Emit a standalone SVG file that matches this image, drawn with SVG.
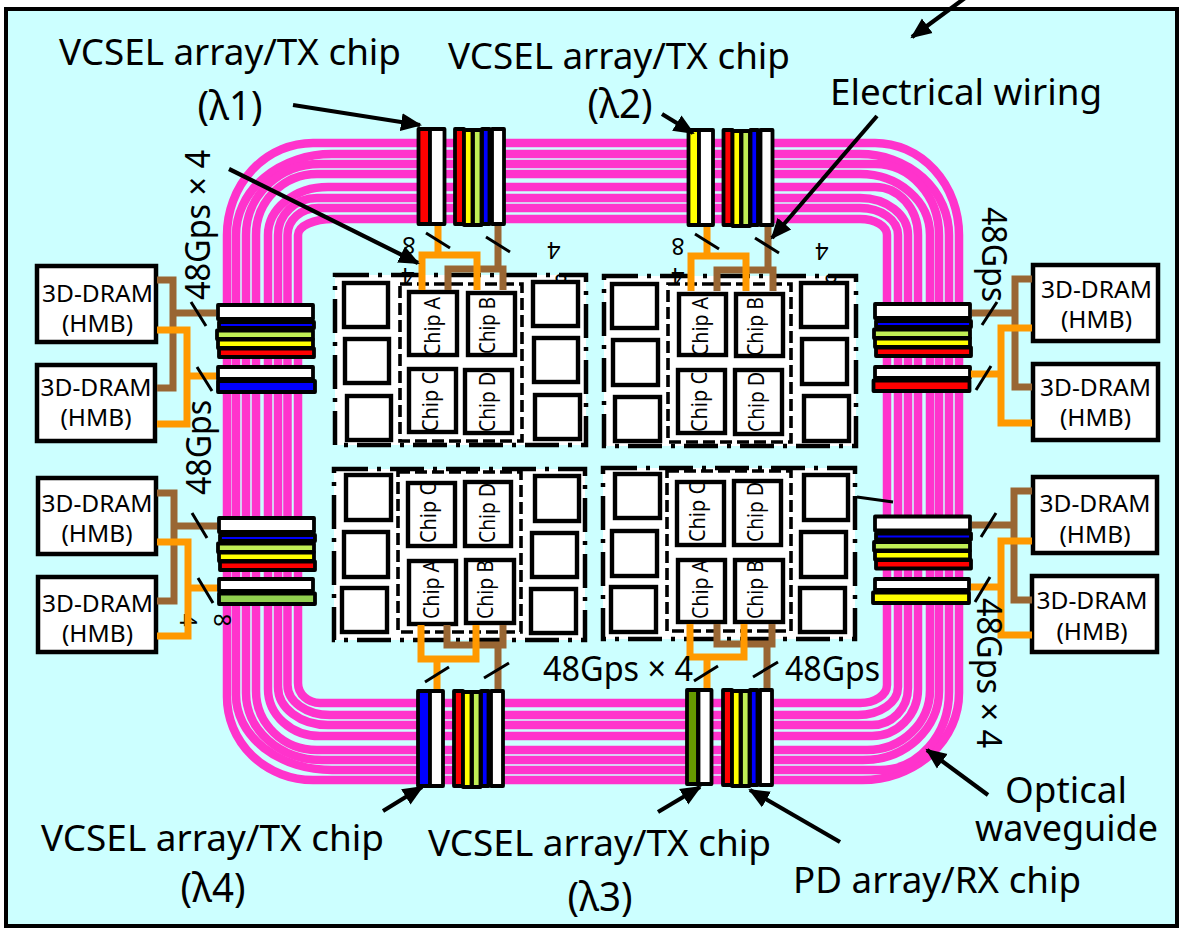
<svg xmlns="http://www.w3.org/2000/svg" xmlns:xlink="http://www.w3.org/1999/xlink" width="1182" height="930" viewBox="0 0 1182 930">
<style>
text{font-family:"Noto Sans","Open Sans",sans-serif;fill:#000}
.lb{font-size:36px}
.la{font-size:40px;text-anchor:middle}
.rt{font-size:34px}
.dr{font-size:24px;text-anchor:middle}
.cp{font-size:21px}
.dg{font-size:23px;text-anchor:middle}
.wg{fill:none;stroke:#ff33cc;stroke-width:8.500}
.s{stroke:#000;stroke-width:3.800;stroke-linejoin:round}
.w{fill:#fff}.r{fill:#f00}.y{fill:#ff0}.g{fill:#c0ee55}.b{fill:#00f}
.box{fill:#fff;stroke:#000;stroke-width:4.500}
.pk{fill:#fff;stroke:#000;stroke-width:4.500;stroke-dasharray:34 9 4 9}
.in{fill:none;stroke:#000;stroke-width:3.600;stroke-dasharray:12 5}
.sq{fill:#fff;stroke:#000;stroke-width:4.400}
.cb{fill:#fff}
.cf{fill:none;stroke:#000;stroke-width:4.400}
.br{fill:none;stroke:#996633;stroke-width:7}
.or{fill:none;stroke:#ff9900;stroke-width:7}
.tk{stroke:#000;stroke-width:3;fill:none}
.ar{stroke:#000;stroke-width:4.200;fill:none;marker-end:url(#ah)}
</style>
<defs>
<marker id="ah" markerUnits="userSpaceOnUse" markerWidth="22" markerHeight="20" viewBox="0 0 22 20" refX="19" refY="10" orient="auto"><path d="M0 1L21 10L0 19z" fill="#000"/></marker>
<g id="rxv"><rect class="s r" x="0" y="0" width="9" height="95"/><rect class="s y" x="9" y="1" width="8.500" height="95"/><rect class="s g" x="18" y="1" width="8.500" height="95"/><rect class="s b" x="27" y="0" width="7.500" height="95"/><rect class="s w" x="37" y="0" width="12" height="95"/></g>
<g id="rxh"><rect class="s w" x="0" y="-0.500" width="95" height="14"/><rect class="s b" x="1" y="16.500" width="95" height="6"/><rect class="s g" x="-1" y="25" width="96" height="8.500"/><rect class="s y" x="0" y="34" width="95" height="8.500"/><rect class="s r" x="1" y="43" width="95" height="8.500"/></g>
</defs>
<rect width="1182" height="930" fill="#fff"/>
<rect id="substrate" x="6" y="9" width="1171" height="917" fill="#ccffff" stroke="#000" stroke-width="4"/>
<g id="waveguides">
<path class="wg" d="M227 235A86 92 0 0 1 313 143H875A84 92 0 0 1 959 235V693A97 87 0 0 1 862 780H313A86 83 0 0 1 227 697Z"/>
<path class="wg" d="M236 235A96 81 0 0 1 332 154H860A89 81 0 0 1 949 235V692A69 78 0 0 1 880 770H332A96 75 0 0 1 236 695Z"/>
<path class="wg" d="M246 235A74 71 0 0 1 320 164H875A64 71 0 0 1 939 235V691A76 69 0 0 1 863 760H322A76 67 0 0 1 246 693Z"/>
<path class="wg" d="M256 235A61 61 0 0 1 317 174H860A70 61 0 0 1 930 235V690A63 60 0 0 1 867 750H317A61 59 0 0 1 256 691Z"/>
<path class="wg" d="M268 235A60 48 0 0 1 328 187H875A43 48 0 0 1 918 235V689A46 47 0 0 1 872 736H320A52 47 0 0 1 268 689Z"/>
<path class="wg" d="M278 235A39 37 0 0 1 317 198H860A48 37 0 0 1 908 235V688A36 37 0 0 1 872 725H328A50 38 0 0 1 278 687Z"/>
<path class="wg" d="M287.500 235A30.500 27 0 0 1 318 208H860A38 27 0 0 1 898 235V687A40 28 0 0 1 858 715H330A42.500 30 0 0 1 287.500 685Z"/>
<path class="wg" d="M298 235A35 16 0 0 1 333 219H860A27 16 0 0 1 887 235V685A27 18 0 0 1 860 703H320A22 20 0 0 1 298 683Z"/>
</g>
<g id="dram-boxes">
<g id="dram-1"><rect class="box" x="37" y="266" width="119" height="76"/><text class="dr" x="97.500" y="302" textLength="111" lengthAdjust="spacingAndGlyphs">3D-DRAM</text><text class="dr" x="97.500" y="332" textLength="71" lengthAdjust="spacingAndGlyphs">(HMB)</text></g>
<g id="dram-2"><rect class="box" x="37" y="365" width="118" height="76"/><text class="dr" x="96" y="396" textLength="111" lengthAdjust="spacingAndGlyphs">3D-DRAM</text><text class="dr" x="96" y="426" textLength="71" lengthAdjust="spacingAndGlyphs">(HMB)</text></g>
<g id="dram-3"><rect class="box" x="38" y="478" width="118" height="76"/><text class="dr" x="97" y="512" textLength="111" lengthAdjust="spacingAndGlyphs">3D-DRAM</text><text class="dr" x="97" y="542" textLength="71" lengthAdjust="spacingAndGlyphs">(HMB)</text></g>
<g id="dram-4"><rect class="box" x="38" y="577" width="118" height="75"/><text class="dr" x="97.500" y="612" textLength="111" lengthAdjust="spacingAndGlyphs">3D-DRAM</text><text class="dr" x="97.500" y="642" textLength="71" lengthAdjust="spacingAndGlyphs">(HMB)</text></g>
<g id="dram-5"><rect class="box" x="1033" y="265" width="125" height="76"/><text class="dr" x="1096.500" y="298" textLength="111" lengthAdjust="spacingAndGlyphs">3D-DRAM</text><text class="dr" x="1096.500" y="328" textLength="71" lengthAdjust="spacingAndGlyphs">(HMB)</text></g>
<g id="dram-6"><rect class="box" x="1033" y="364" width="125" height="76"/><text class="dr" x="1095.500" y="396" textLength="111" lengthAdjust="spacingAndGlyphs">3D-DRAM</text><text class="dr" x="1095.500" y="426" textLength="71" lengthAdjust="spacingAndGlyphs">(HMB)</text></g>
<g id="dram-7"><rect class="box" x="1033" y="477" width="124" height="76"/><text class="dr" x="1095" y="512" textLength="111" lengthAdjust="spacingAndGlyphs">3D-DRAM</text><text class="dr" x="1095" y="543" textLength="71" lengthAdjust="spacingAndGlyphs">(HMB)</text></g>
<g id="dram-8"><rect class="box" x="1032" y="576" width="125" height="76"/><text class="dr" x="1092" y="609" textLength="111" lengthAdjust="spacingAndGlyphs">3D-DRAM</text><text class="dr" x="1092" y="640" textLength="71" lengthAdjust="spacingAndGlyphs">(HMB)</text></g>
</g>
<g id="chip-stacks">
<g id="stack-top-1"><rect class="s r" x="418.500" y="129" width="11.500" height="95"/><rect class="s w" x="430" y="129" width="14.500" height="95"/><use xlink:href="#rxv" href="#rxv" x="455" y="129"/></g>
<g id="stack-top-2"><rect class="s y" x="688.500" y="130" width="10.500" height="95"/><rect class="s w" x="699" y="130" width="14" height="95"/><use xlink:href="#rxv" href="#rxv" x="723.500" y="130"/></g>
<g id="stack-bottom-1"><rect class="s b" x="418" y="691" width="12" height="95"/><rect class="s w" x="430" y="691" width="13" height="95"/><use xlink:href="#rxv" href="#rxv" x="454" y="691"/></g>
<g id="stack-bottom-2"><rect class="s" fill="#669900" x="687" y="690" width="11" height="94"/><rect class="s w" x="698.500" y="690" width="13" height="94"/><use xlink:href="#rxv" href="#rxv" x="723" y="690"/></g>
<g id="stack-left-1"><use xlink:href="#rxh" href="#rxh" x="218" y="305.500"/><rect class="s w" x="218" y="367" width="95" height="12"/><rect class="s b" x="218" y="381" width="97" height="11"/></g>
<g id="stack-left-2"><use xlink:href="#rxh" href="#rxh" x="219" y="518.500"/><rect class="s w" x="219" y="579" width="94" height="12"/><rect class="s" fill="#92d050" x="219" y="593.500" width="96" height="10.500"/></g>
<g id="stack-right-1"><use xlink:href="#rxh" href="#rxh" x="875" y="304.500"/><rect class="s w" x="875" y="367" width="95" height="11"/><rect class="s r" x="873.500" y="380.500" width="96" height="10.500"/></g>
<g id="stack-right-2"><use xlink:href="#rxh" href="#rxh" x="875" y="517"/><rect class="s w" x="875" y="579" width="94" height="11"/><rect class="s y" x="873" y="592.500" width="96" height="10.500"/></g>
</g>
<g id="count-labels">
<text class="dg" transform="translate(409 237) rotate(180)">8</text>
<text class="dg" transform="translate(554 242) rotate(180)">4</text>
<text class="dg" transform="translate(678 238) rotate(180)">8</text>
<text class="dg" transform="translate(822 243) rotate(180)">4</text>
<text class="dg" transform="translate(214 620) rotate(90)">8</text>
</g>
<g id="pkg-1">
<rect class="pk" x="335" y="275" width="251" height="170"/>
<text class="dg" transform="translate(408 268) rotate(180)">4</text><text class="dg" transform="translate(561 274) rotate(180)">8</text>
<rect class="in" x="400" y="284" width="122" height="157"/>
<rect class="sq" x="344" y="283" width="44" height="44"/><rect class="sq" x="345" y="339" width="44" height="44"/><rect class="sq" x="347" y="396" width="44" height="44"/>
<rect class="sq" x="533" y="282" width="45" height="44"/><rect class="sq" x="534" y="338" width="44" height="44"/><rect class="sq" x="535" y="395" width="45" height="44"/>
<rect class="cb" x="409" y="292" width="48" height="63"/><text class="cp" transform="translate(440 356) rotate(-90)" textLength="59" lengthAdjust="spacingAndGlyphs">Chip A</text><rect class="cf" x="409" y="292" width="48" height="63"/>
<rect class="cb" x="468" y="293" width="47" height="62"/><text class="cp" transform="translate(495 354) rotate(-90)" textLength="57" lengthAdjust="spacingAndGlyphs">Chip B</text><rect class="cf" x="468" y="293" width="47" height="62"/>
<rect class="cb" x="409" y="369" width="47" height="63"/><text class="cp" transform="translate(438 432) rotate(-90)" textLength="60" lengthAdjust="spacingAndGlyphs">Chip C</text><rect class="cf" x="409" y="369" width="47" height="63"/>
<rect class="cb" x="465" y="370" width="47" height="63"/><text class="cp" transform="translate(495 432) rotate(-90)" textLength="60" lengthAdjust="spacingAndGlyphs">Chip D</text><rect class="cf" x="465" y="370" width="47" height="63"/>
</g>
<g id="pkg-2">
<rect class="pk" x="604" y="276" width="252" height="170"/>
<text class="dg" transform="translate(678 268) rotate(180)">4</text><text class="dg" transform="translate(831 274) rotate(180)">8</text>
<rect class="in" x="668" y="284" width="123" height="158"/>
<rect class="sq" x="612" y="284" width="45" height="44"/><rect class="sq" x="613" y="340" width="45" height="45"/><rect class="sq" x="615" y="397" width="45" height="44"/>
<rect class="sq" x="801" y="283" width="46" height="44"/><rect class="sq" x="802" y="339" width="45" height="45"/><rect class="sq" x="804" y="396" width="45" height="45"/>
<rect class="cb" x="679" y="294" width="47" height="61"/><text class="cp" transform="translate(708 356) rotate(-90)" textLength="59" lengthAdjust="spacingAndGlyphs">Chip A</text><rect class="cf" x="679" y="294" width="47" height="61"/>
<rect class="cb" x="736" y="294" width="47" height="62"/><text class="cp" transform="translate(763 356) rotate(-90)" textLength="59" lengthAdjust="spacingAndGlyphs">Chip B</text><rect class="cf" x="736" y="294" width="47" height="62"/>
<rect class="cb" x="678" y="370" width="47" height="63"/><text class="cp" transform="translate(707 432) rotate(-90)" textLength="60" lengthAdjust="spacingAndGlyphs">Chip C</text><rect class="cf" x="678" y="370" width="47" height="63"/>
<rect class="cb" x="735" y="370" width="47" height="64"/><text class="cp" transform="translate(764 432) rotate(-90)" textLength="60" lengthAdjust="spacingAndGlyphs">Chip D</text><rect class="cf" x="735" y="370" width="47" height="64"/>
</g>
<g id="pkg-3">
<rect class="pk" x="334" y="469" width="251" height="171"/>
<rect class="in" x="398" y="472" width="123" height="160"/>
<rect class="sq" x="346" y="475" width="45" height="45"/><rect class="sq" x="344" y="532" width="44" height="45"/><rect class="sq" x="342" y="588" width="45" height="44"/>
<rect class="sq" x="535" y="476" width="44" height="45"/><rect class="sq" x="532" y="533" width="45" height="44"/><rect class="sq" x="531" y="589" width="45" height="44"/>
<rect class="cb" x="408" y="483" width="47" height="63"/><text class="cp" transform="translate(436 543) rotate(-90)" textLength="60" lengthAdjust="spacingAndGlyphs">Chip C</text><rect class="cf" x="408" y="483" width="47" height="63"/>
<rect class="cb" x="465" y="482" width="46" height="64"/><text class="cp" transform="translate(495 543) rotate(-90)" textLength="60" lengthAdjust="spacingAndGlyphs">Chip D</text><rect class="cf" x="465" y="482" width="46" height="64"/>
<rect class="cb" x="409" y="561" width="47" height="63"/><text class="cp" transform="translate(439 619) rotate(-90)" textLength="59" lengthAdjust="spacingAndGlyphs">Chip A</text><rect class="cf" x="409" y="561" width="47" height="63"/>
<rect class="cb" x="466" y="560" width="48" height="63"/><text class="cp" transform="translate(493 619) rotate(-90)" textLength="59" lengthAdjust="spacingAndGlyphs">Chip B</text><rect class="cf" x="466" y="560" width="48" height="63"/>
</g>
<g id="pkg-4">
<rect class="pk" x="603" y="468" width="252" height="171"/>
<rect class="in" x="667" y="471" width="124" height="160"/>
<rect class="sq" x="615" y="474" width="45" height="44"/><rect class="sq" x="612" y="531" width="45" height="45"/><rect class="sq" x="611" y="587" width="45" height="45"/>
<rect class="sq" x="804" y="475" width="44" height="45"/><rect class="sq" x="801" y="532" width="45" height="45"/><rect class="sq" x="800" y="588" width="45" height="44"/>
<rect class="cb" x="677" y="482" width="47" height="63"/><text class="cp" transform="translate(705 542) rotate(-90)" textLength="60" lengthAdjust="spacingAndGlyphs">Chip C</text><rect class="cf" x="677" y="482" width="47" height="63"/>
<rect class="cb" x="734" y="481" width="47" height="64"/><text class="cp" transform="translate(763 542) rotate(-90)" textLength="60" lengthAdjust="spacingAndGlyphs">Chip D</text><rect class="cf" x="734" y="481" width="47" height="64"/>
<rect class="cb" x="678" y="560" width="47" height="62"/><text class="cp" transform="translate(708 619) rotate(-90)" textLength="59" lengthAdjust="spacingAndGlyphs">Chip A</text><rect class="cf" x="678" y="560" width="47" height="62"/>
<rect class="cb" x="735" y="560" width="48" height="62"/><text class="cp" transform="translate(763 619) rotate(-90)" textLength="59" lengthAdjust="spacingAndGlyphs">Chip B</text><rect class="cf" x="735" y="560" width="48" height="62"/>
</g>
<g id="connectors">
<path class="br" d="M157 280H173V388H157M173 313H216"/>
<text class="dg" transform="translate(180 620) rotate(90)">4</text>
<path class="or" d="M157 330H187V424H157M187 376H216"/>
<path class="br" d="M157 493H174V601H157M174 526H217"/>
<path class="or" d="M157 542H188V636H157M188 588H217"/>
<path class="br" d="M972 313H1015M1032 279H1015V387H1032"/>
<path class="or" d="M971 374H1001M1032 328H1001V423H1032"/>
<path class="br" d="M972 525H1014M1032 491H1014V600H1032"/>
<path class="or" d="M971 587H1001M1032 541H1001V635H1032"/>
<path class="br" d="M498 226V269M448 290V269H503V290"/>
<path class="or" d="M438 226V255M422 290V255H477V290"/>
<path class="br" d="M768 227V270M717 291V270H773V291"/>
<path class="or" d="M707 227V256M691 291V256H746V291"/>
<path class="br" d="M498 689V645M447 625V645H503V625"/>
<path class="or" d="M437 689V659M421 625V659H476V625"/>
<path class="br" d="M767 688V644M717 624V644H772V624"/>
<path class="or" d="M707 688V657M690 624V657H744V624"/>
<path class="tk" d="M191 302L206 326M197 367L212 391M192 513L207 538M198 578L213 603M997 302L982 325M991 366L976 390M996 513L981 537M990 577L975 602M426 233L450 248M486 237L510 252M695 234L719 249M755 238L779 253M425 682L449 667M484 678L509 663M694 681L718 666M753 677L778 662"/>
<path class="tk" d="M857 497L893 502"/>
<path class="ar" d="M293 105L420 125"/>
<path class="ar" d="M229 169L418 263"/>
<path class="ar" d="M662 114L693 133"/>
<path class="ar" d="M877 116L772 238"/>
<path class="ar" d="M965 -2L912 37"/>
<path class="ar" d="M383 811L422 787"/>
<path class="ar" d="M658 812L700 787"/>
<path class="ar" d="M840 842L750 790"/>
<path class="ar" d="M988 795L927 750"/>
</g>
<g id="labels">
<text class="lb" x="59" y="65" textLength="342" lengthAdjust="spacingAndGlyphs">VCSEL array/TX chip</text>
<text class="la" x="230" y="120" textLength="65" lengthAdjust="spacingAndGlyphs">(λ1)</text>
<text class="lb" x="448" y="69" textLength="342" lengthAdjust="spacingAndGlyphs">VCSEL array/TX chip</text>
<text class="la" x="620" y="118" textLength="65" lengthAdjust="spacingAndGlyphs">(λ2)</text>
<text class="lb" x="830" y="105" textLength="272" lengthAdjust="spacingAndGlyphs">Electrical wiring</text>
<text class="lb" x="41" y="851" textLength="343" lengthAdjust="spacingAndGlyphs">VCSEL array/TX chip</text>
<text class="la" x="213" y="902" textLength="65" lengthAdjust="spacingAndGlyphs">(λ4)</text>
<text class="lb" x="428" y="856" textLength="343" lengthAdjust="spacingAndGlyphs">VCSEL array/TX chip</text>
<text class="la" x="600" y="911" textLength="65" lengthAdjust="spacingAndGlyphs">(λ3)</text>
<text class="lb" x="793" y="893" textLength="288" lengthAdjust="spacingAndGlyphs">PD array/RX chip</text>
<text class="lb" x="1005" y="803" textLength="122" lengthAdjust="spacingAndGlyphs">Optical</text>
<text class="lb" x="975" y="841" textLength="183" lengthAdjust="spacingAndGlyphs">waveguide</text>
<text class="rt" transform="translate(210 300) rotate(-90)" textLength="150" lengthAdjust="spacingAndGlyphs">48Gps × 4</text>
<text class="rt" transform="translate(211 495) rotate(-90)" textLength="95" lengthAdjust="spacingAndGlyphs">48Gps</text>
<text class="rt" transform="translate(982 207) rotate(90)" textLength="95" lengthAdjust="spacingAndGlyphs">48Gps</text>
<text class="rt" transform="translate(977 598) rotate(90)" textLength="150" lengthAdjust="spacingAndGlyphs">48Gps × 4</text>
<text class="rt" x="543" y="681" textLength="150" lengthAdjust="spacingAndGlyphs">48Gps × 4</text>
<text class="rt" x="785" y="681" textLength="95" lengthAdjust="spacingAndGlyphs">48Gps</text>
</g>
</svg>
